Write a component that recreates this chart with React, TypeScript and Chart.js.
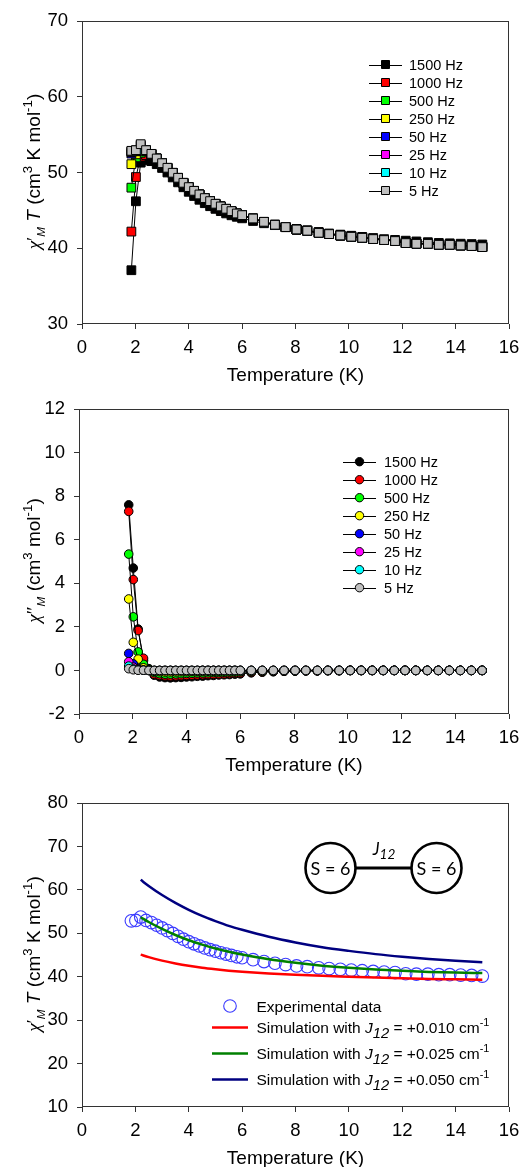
import React, { useEffect, useRef } from "react";
import { Chart, registerables } from "chart.js";
Chart.register(...registerables);

const SANS = '"Liberation Sans", Arial, Helvetica, sans-serif';
const SERIF = '"Liberation Serif", "Times New Roman", serif';
const DIAG = 'Lato, "Open Sans", sans-serif';

// ---------- data ----------
const T = [1.85, 2.02, 2.2, 2.4, 2.6, 2.8, 3.0, 3.2, 3.4, 3.6, 3.8, 4.0, 4.2, 4.4, 4.6, 4.8, 5.0, 5.2, 5.4, 5.6, 5.8, 6.0,
  6.41, 6.82, 7.23, 7.63, 8.04, 8.44, 8.87, 9.26, 9.68, 10.09, 10.5, 10.91, 11.32, 11.73, 12.13, 12.53, 12.96, 13.37, 13.78, 14.19, 14.6, 15.0];

const FREQS = ["1500 Hz", "1000 Hz", "500 Hz", "250 Hz", "50 Hz", "25 Hz", "10 Hz", "5 Hz"];
const COLORS = ["#000000", "#ff0000", "#00ff00", "#ffff00", "#0000ff", "#ff00ff", "#00ffff", "#c0c0c0"];

// chi' T (cm3 K mol-1)
const chiT_1500 = [37.1, 46.2, 51.3, 51.6, 51.5, 51.1, 50.6, 50.0, 49.35, 48.7, 48.05, 47.45, 46.9, 46.4, 45.95, 45.55, 45.2, 44.9, 44.6, 44.35, 44.15, 43.95,
  43.6, 43.3, 43.05, 42.8, 42.55, 42.35, 42.15, 41.95, 41.8, 41.65, 41.5, 41.35, 41.2, 41.1, 41.0, 40.9, 40.8, 40.7, 40.65, 40.6, 40.55, 40.5];
const chiT_1000 = [42.2, 49.4, 52.1, 52.3, 52.4, 51.8, 51.18, 50.57, 49.91, 49.25, 48.59, 48.02, 47.53, 47.05, 46.57, 46.17, 45.82, 45.47, 45.16, 44.85, 44.54, 44.32,
  43.88, 43.45, 43.08, 42.78, 42.48, 42.31, 42.05, 41.88, 41.7, 41.53, 41.39, 41.22, 41.09, 40.97, 40.72, 40.63, 40.62, 40.5, 40.49, 40.4, 40.33, 40.2];
const chiT_500 = [48.0, 52.0, 52.6, 52.8, 52.42, 51.82, 51.2, 50.59, 49.93, 49.27, 48.61, 48.04, 47.55, 47.07, 46.59, 46.19, 45.84, 45.49, 45.18, 44.87, 44.56, 44.34,
  43.9, 43.47, 43.09, 42.78, 42.48, 42.31, 42.04, 41.87, 41.69, 41.52, 41.38, 41.21, 41.08, 40.96, 40.7, 40.61, 40.6, 40.48, 40.48, 40.39, 40.31, 40.18];
const chiT_250 = [51.1, 52.4, 53.0, 52.85, 52.44, 51.84, 51.22, 50.61, 49.95, 49.29, 48.63, 48.06, 47.57, 47.09, 46.61, 46.21, 45.86, 45.51, 45.2, 44.89, 44.58, 44.36,
  43.92, 43.48, 43.1, 42.79, 42.48, 42.31, 42.04, 41.87, 41.69, 41.52, 41.38, 41.21, 41.08, 40.95, 40.69, 40.6, 40.6, 40.47, 40.47, 40.38, 40.3, 40.17];
const chiT_50 = [52.5, 52.8, 53.5, 52.9, 52.42, 51.82, 51.2, 50.6, 49.94, 49.28, 48.62, 48.05, 47.56, 47.08, 46.6, 46.2, 45.85, 45.5, 45.19, 44.88, 44.57, 44.35,
  43.92, 43.48, 43.1, 42.79, 42.48, 42.31, 42.04, 41.87, 41.69, 41.52, 41.38, 41.21, 41.08, 40.95, 40.69, 40.6, 40.6, 40.47, 40.47, 40.38, 40.3, 40.17];
const chiT_25 = [52.7, 52.9, 53.6, 52.93, 52.44, 51.84, 51.22, 50.61, 49.95, 49.29, 48.63, 48.06, 47.57, 47.09, 46.61, 46.21, 45.86, 45.51, 45.2, 44.89, 44.58, 44.36,
  43.92, 43.48, 43.1, 42.79, 42.48, 42.31, 42.04, 41.87, 41.69, 41.52, 41.38, 41.21, 41.08, 40.95, 40.68, 40.59, 40.6, 40.46, 40.46, 40.37, 40.29, 40.16];
const chiT_10 = [52.8, 52.9, 52.95, 52.94, 52.45, 51.85, 51.23, 50.62, 49.96, 49.3, 48.64, 48.07, 47.58, 47.1, 46.62, 46.22, 45.87, 45.52, 45.21, 44.9, 44.59, 44.37,
  43.93, 43.49, 43.1, 42.79, 42.48, 42.31, 42.04, 41.87, 41.69, 41.52, 41.38, 41.21, 41.08, 40.95, 40.68, 40.59, 40.59, 40.46, 40.46, 40.37, 40.29, 40.15];
const chiT_5 = [52.86, 52.95, 53.74, 52.95, 52.46, 51.85, 51.23, 50.62, 49.96, 49.3, 48.64, 48.07, 47.58, 47.1, 46.62, 46.22, 45.87, 45.52, 45.21, 44.9, 44.59, 44.37,
  43.93, 43.49, 43.1, 42.79, 42.48, 42.31, 42.04, 41.87, 41.69, 41.52, 41.38, 41.21, 41.08, 40.95, 40.68, 40.59, 40.59, 40.46, 40.46, 40.37, 40.29, 40.15];

// chi'' (cm3 mol-1)
const chi2_1500 = [7.6, 4.7, 1.9, 0.45, 0.08, -0.22, -0.3, -0.33, -0.34, -0.33, -0.32, -0.3, -0.29, -0.27, -0.26, -0.24, -0.23, -0.21, -0.2, -0.19, -0.17, -0.16,
  -0.11, -0.08, -0.06, -0.04, -0.03, -0.02, -0.02, -0.01, -0.01, 0, 0, 0, 0, 0, 0, 0, 0, 0, 0, 0, 0, 0];
const chi2_1000 = [7.3, 4.17, 1.83, 0.56, 0.05, -0.18, -0.23, -0.25, -0.26, -0.25, -0.24, -0.23, -0.22, -0.21, -0.2, -0.19, -0.18, -0.17, -0.16, -0.15, -0.14, -0.13,
  -0.09, -0.07, -0.05, -0.04, -0.03, -0.02, -0.02, -0.01, -0.01, 0, 0, 0, 0, 0, 0, 0, 0, 0, 0, 0, 0, 0];
const chi2_500 = [5.34, 2.46, 0.85, 0.28, 0.05, -0.1, -0.15, -0.17, -0.17, -0.16, -0.15, -0.14, -0.13, -0.12, -0.12, -0.11, -0.1, -0.1, -0.09, -0.08, -0.08, -0.07,
  -0.05, -0.04, -0.03, -0.02, -0.02, -0.01, -0.01, 0, 0, 0, 0, 0, 0, 0, 0, 0, 0, 0, 0, 0, 0, 0];
const chi2_250 = [3.28, 1.29, 0.52, 0.12, 0.02, -0.04, -0.06, -0.07, -0.07, -0.07, -0.06, -0.06, -0.05, -0.05, -0.05, -0.04, -0.04, -0.04, -0.03, -0.03, -0.03, -0.03,
  -0.02, -0.02, -0.01, -0.01, 0, 0, 0, 0, 0, 0, 0, 0, 0, 0, 0, 0, 0, 0, 0, 0, 0, 0];
const chi2_50 = [0.78, 0.3, 0.08, 0.02, 0, -0.01, -0.01, -0.01, -0.01, -0.01, -0.01, -0.01, -0.01, -0.01, 0, 0, 0, 0, 0, 0, 0, 0,
  0, 0, 0, 0, 0, 0, 0, 0, 0, 0, 0, 0, 0, 0, 0, 0, 0, 0, 0, 0, 0, 0];
const chi2_25 = [0.4, 0.15, 0.04, 0.01, 0, 0, 0, 0, 0, 0, 0, 0, 0, 0, 0, 0, 0, 0, 0, 0, 0, 0,
  0, 0, 0, 0, 0, 0, 0, 0, 0, 0, 0, 0, 0, 0, 0, 0, 0, 0, 0, 0, 0, 0];
const chi2_10 = [0.2, 0.07, 0.02, 0.01, 0, 0, 0, 0, 0, 0, 0, 0, 0, 0, 0, 0, 0, 0, 0, 0, 0, 0,
  0, 0, 0, 0, 0, 0, 0, 0, 0, 0, 0, 0, 0, 0, 0, 0, 0, 0, 0, 0, 0, 0];
const chi2_5 = [0.08, 0.03, 0.01, 0.01, 0, 0, 0, 0, 0, 0, 0, 0, 0, 0, 0, 0, 0, 0, 0, 0, 0, 0,
  0, 0, 0, 0, 0, 0, 0, 0, 0, 0, 0, 0, 0, 0, 0, 0, 0, 0, 0, 0, 0, 0];

// simulations (panel 3)
const simT = [2.2, 2.5, 3.0, 3.5, 4.0, 4.5, 5.0, 5.5, 6.0, 7.0, 8.0, 9.0, 10.0, 11.0, 12.0, 13.0, 14.0, 15.0];
const sim010 = [45.1, 44.5, 43.7, 43.05, 42.5, 42.05, 41.7, 41.4, 41.15, 40.75, 40.45, 40.2, 40.0, 39.8, 39.65, 39.5, 39.4, 39.3];
const sim025 = [53.7, 52.6, 51.0, 49.6, 48.4, 47.4, 46.5, 45.75, 45.1, 44.0, 43.2, 42.55, 42.05, 41.65, 41.35, 41.1, 40.95, 40.85];
const sim050 = [62.3, 60.9, 58.8, 57.0, 55.4, 54.0, 52.8, 51.7, 50.8, 49.2, 47.9, 46.8, 45.95, 45.2, 44.6, 44.1, 43.7, 43.35];
const SIM_LABELS = ["+0.010", "+0.025", "+0.050"];
const SIM_COLORS = ["#ff0000", "#008000", "#000080"];
const EXP_COLOR = "#3a3aff";

const xTicks = { min: 0, max: 16, step: 2 };

// ---------- helpers ----------
type Seg = { t: string; it?: boolean; sub?: boolean; sup?: boolean; serif?: boolean; sc?: number; dy?: number; fam?: string };

function segFont(s: Seg, size: number, fam: string) {
  const sz = s.sub || s.sup ? size * (s.sc ?? 0.7) : size;
  const f = s.serif ? SERIF : s.fam ?? fam;
  return `${s.it ? "italic " : ""}${sz}px ${f}`;
}
function drawRich(ctx: CanvasRenderingContext2D, segs: Seg[], x: number, y: number, size: number, fam: string, align: "left" | "center") {
  ctx.textAlign = "left";
  ctx.textBaseline = "alphabetic";
  const ws = segs.map((s) => {
    ctx.font = segFont(s, size, fam);
    return ctx.measureText(s.t).width;
  });
  const total = ws.reduce((a, b) => a + b, 0);
  let cx = align === "center" ? x - total / 2 : x;
  segs.forEach((s, i) => {
    ctx.font = segFont(s, size, fam);
    const dy = s.dy !== undefined ? s.dy * size : s.sub ? size * 0.25 : s.sup ? -size * 0.42 : 0;
    ctx.fillText(s.t, cx, y + dy);
    cx += ws[i];
  });
}

const W = 531;
const TICK_SIZE = 18.5;
const TITLE_SIZE = 19;
type Geom = { height: number; left: number; right: number; top: number; bottom: number };

function baseOptions(g: Geom, yMin: number, yMax: number, yStep: number) {
  const tickFont = { family: SANS, size: TICK_SIZE };
  return {
    responsive: false,
    maintainAspectRatio: false,
    animation: false as const,
    devicePixelRatio: 1,
    layout: { padding: { left: 0, top: g.top, right: W - g.right, bottom: 0 } },
    plugins: { legend: { display: false }, tooltip: { enabled: false } },
    scales: {
      x: {
        type: "linear" as const,
        min: xTicks.min,
        max: xTicks.max,
        ticks: { stepSize: xTicks.step, font: tickFont, color: "#000", padding: 8, maxRotation: 0, autoSkip: false },
        grid: { drawOnChartArea: false, drawTicks: true, tickLength: 5, color: "#333", lineWidth: 1 },
        border: { display: false },
        afterFit: (s: any) => { s.height = g.height - g.bottom; },
      },
      y: {
        type: "linear" as const,
        min: yMin,
        max: yMax,
        ticks: { stepSize: yStep, font: tickFont, color: "#000", padding: 9, autoSkip: false },
        grid: { drawOnChartArea: false, drawTicks: true, tickLength: 5, color: "#333", lineWidth: 1 },
        border: { display: false },
        afterFit: (s: any) => { s.width = g.left; },
      },
    },
  };
}

function framePlugin(yTitle: Seg[], extra?: (ctx: CanvasRenderingContext2D, c: any) => void) {
  return {
    id: "frame",
    afterDraw(chart: any) {
      const { ctx, chartArea: a } = chart;
      ctx.save();
      ctx.strokeStyle = "#333";
      ctx.lineWidth = 1;
      const l = Math.round(a.left) + 0.5, r = Math.round(a.right) - 0.5, t = Math.round(a.top) + 0.5, b = Math.round(a.bottom) - 0.5;
      ctx.strokeRect(l, t, r - l, b - t);
      ctx.fillStyle = "#000";
      // x title
      drawRich(ctx, [{ t: "Temperature (K)" }], (a.left + a.right) / 2, a.bottom + 50 + 0.36 * TITLE_SIZE, TITLE_SIZE, SANS, "center");
      // y title
      ctx.save();
      ctx.translate(33, (a.top + a.bottom) / 2 - 1);
      ctx.rotate(-Math.PI / 2);
      drawRich(ctx, yTitle, 0, 0.36 * TITLE_SIZE, TITLE_SIZE, SANS, "center");
      ctx.restore();
      if (extra) extra(ctx, chart);
      ctx.restore();
    },
  };
}

function freqLegend(ctx: CanvasRenderingContext2D, y0: number, x1: number, x2: number, xm: number, xt: number, shape: "rect" | "circle") {
  for (let i = 0; i < FREQS.length; i++) {
    const y = y0 + 18 * i;
    ctx.strokeStyle = "#000";
    ctx.lineWidth = 1;
    ctx.beginPath();
    ctx.moveTo(x1, Math.round(y) + 0.5);
    ctx.lineTo(x2, Math.round(y) + 0.5);
    ctx.stroke();
    ctx.fillStyle = COLORS[i];
    ctx.beginPath();
    if (shape === "rect") ctx.rect(xm - 4, y - 4, 8, 8);
    else ctx.arc(xm, y, 4.2, 0, Math.PI * 2);
    ctx.fill();
    ctx.stroke();
    ctx.fillStyle = "#000";
    drawRich(ctx, [{ t: FREQS[i] }], xt, y + 0.36 * 14.5, 14.5, SANS, "left");
  }
}

const chiTSeries = [chiT_1500, chiT_1000, chiT_500, chiT_250, chiT_50, chiT_25, chiT_10, chiT_5];
const chi2Series = [chi2_1500, chi2_1000, chi2_500, chi2_250, chi2_50, chi2_25, chi2_10, chi2_5];

const yTitle1: Seg[] = [
  { t: "χ", it: true, serif: true },
  { t: "′", serif: true },
  { t: "M", it: true, sub: true, sc: 0.62 },
  { t: " " },
  { t: "T", it: true },
  { t: " (cm" },
  { t: "3", sup: true },
  { t: " K mol" },
  { t: "-1", sup: true },
  { t: ")" },
];
const yTitle2: Seg[] = [
  { t: "χ", it: true, serif: true },
  { t: "″", serif: true },
  { t: "M", it: true, sub: true, sc: 0.62 },
  { t: " (cm" },
  { t: "3", sup: true },
  { t: " mol" },
  { t: "-1", sup: true },
  { t: ")" },
];

// ---------- chart builders ----------
const G1: Geom = { height: 385, left: 82, right: 509, top: 21, bottom: 324 };
const G2: Geom = { height: 390, left: 79, right: 509, top: 24, bottom: 329 };
const G3: Geom = { height: 392, left: 82, right: 509, top: 28, bottom: 332 };

function buildChart1() {
  return {
    type: "line" as const,
    data: {
      datasets: chiTSeries.map((arr, k) => ({
        label: FREQS[k],
        data: T.map((t, i) => ({ x: t, y: arr[i] })),
        borderColor: "#000",
        borderWidth: 1,
        pointStyle: "rect",
        pointRadius: 6.2,
        pointBackgroundColor: COLORS[k],
        pointBorderColor: "#000",
        pointBorderWidth: 1,
        order: 7 - k,
        tension: 0,
      })),
    },
    options: baseOptions(G1, 30, 70, 10),
    plugins: [framePlugin(yTitle1, (ctx) => freqLegend(ctx, 64.5, 369, 402, 385.5, 409, "rect"))],
  };
}

function buildChart2() {
  return {
    type: "line" as const,
    data: {
      datasets: chi2Series.map((arr, k) => ({
        label: FREQS[k],
        data: T.map((t, i) => ({ x: t, y: arr[i] })),
        borderColor: "#000",
        borderWidth: 1,
        pointStyle: "circle",
        pointRadius: 4.3,
        pointBackgroundColor: COLORS[k],
        pointBorderColor: "#000",
        pointBorderWidth: 1,
        order: 7 - k,
        tension: 0,
      })),
    },
    options: baseOptions(G2, -2, 12, 2),
    plugins: [framePlugin(yTitle2, (ctx) => freqLegend(ctx, 461.7 - 385, 343, 376, 359.5, 384, "circle"))],
  };
}

function buildChart3() {
  const sims = [sim010, sim025, sim050];
  const off = 775;
  return {
    type: "line" as const,
    data: {
      datasets: [
        {
          label: "Experimental data",
          data: T.map((t, i) => ({ x: t, y: chiT_5[i] })),
          showLine: false,
          pointStyle: "circle",
          pointRadius: 6.3,
          pointBackgroundColor: "rgba(0,0,0,0)",
          pointBorderColor: EXP_COLOR,
          pointBorderWidth: 1.1,
          order: 5,
        },
        ...sims.map((arr, k) => ({
          label: SIM_LABELS[k],
          data: simT.map((t, i) => ({ x: t, y: arr[i] })),
          borderColor: SIM_COLORS[k],
          borderWidth: 2.5,
          pointRadius: 0,
          cubicInterpolationMode: "monotone",
          order: 3 - k,
        })),
      ],
    },
    options: baseOptions(G3, 10, 80, 10),
    plugins: [
      framePlugin(yTitle1, (ctx) => {
        // diagram
        const cy = 868 - off;
        ctx.strokeStyle = "#000";
        ctx.lineWidth = 2.6;
        ctx.beginPath();
        ctx.arc(330.5, cy, 25, 0, Math.PI * 2);
        ctx.stroke();
        ctx.beginPath();
        ctx.arc(436.5, cy, 25, 0, Math.PI * 2);
        ctx.stroke();
        ctx.lineWidth = 3;
        ctx.beginPath();
        ctx.moveTo(355.5, cy);
        ctx.lineTo(411.5, cy);
        ctx.stroke();
        ctx.fillStyle = "#000";
        drawRich(ctx, [{ t: "S = 6" }], 330.5, cy + 6.5, 18, DIAG, "center");
        drawRich(ctx, [{ t: "S = 6" }], 436.5, cy + 6.5, 18, DIAG, "center");
        drawRich(ctx, [{ t: "J", it: true }, { t: "12", it: true, sub: true, sc: 0.8, dy: 0.22 }], 384, cy - 13, 17, DIAG, "center");
        // legend
        ctx.strokeStyle = EXP_COLOR;
        ctx.lineWidth = 1.1;
        ctx.beginPath();
        ctx.arc(230, 1006 - off, 6.3, 0, Math.PI * 2);
        ctx.stroke();
        ctx.fillStyle = "#000";
        drawRich(ctx, [{ t: "Experimental data" }], 256.5, 1006 - off + 0.36 * 15.5, 15.5, SANS, "left");
        for (let k = 0; k < 3; k++) {
          const y = 1027.5 + 26 * k - off;
          ctx.strokeStyle = SIM_COLORS[k];
          ctx.lineWidth = 2.5;
          ctx.beginPath();
          ctx.moveTo(212, y);
          ctx.lineTo(248, y);
          ctx.stroke();
          ctx.fillStyle = "#000";
          drawRich(
            ctx,
            [
              { t: "Simulation with " },
              { t: "J", it: true },
              { t: "12", it: true, sub: true, sc: 0.95, dy: 0.3 },
              { t: " = " + SIM_LABELS[k] + " cm" },
              { t: "-1", sup: true, sc: 0.7, dy: -0.45 },
            ],
            256.5,
            y + 0.36 * 15.5,
            15.5,
            SANS,
            "left"
          );
        }
      }),
    ],
  };
}

function Panel({ top, height, build }: { top: number; height: number; build: () => any }) {
  const ref = useRef<HTMLCanvasElement>(null);
  useEffect(() => {
    const chart = new Chart(ref.current as HTMLCanvasElement, build());
    return () => chart.destroy();
  }, []);
  return (
    <canvas
      ref={ref}
      width={W}
      height={height}
      style={{ position: "absolute", left: 0, top, width: W, height, display: "block" }}
    />
  );
}

export default function App() {
  return (
    <div style={{ position: "absolute", left: 0, top: 0, width: W, height: 1167, background: "#fff", overflow: "hidden" }}>
      <Panel top={0} height={G1.height} build={buildChart1} />
      <Panel top={385} height={G2.height} build={buildChart2} />
      <Panel top={775} height={G3.height} build={buildChart3} />
    </div>
  );
}
